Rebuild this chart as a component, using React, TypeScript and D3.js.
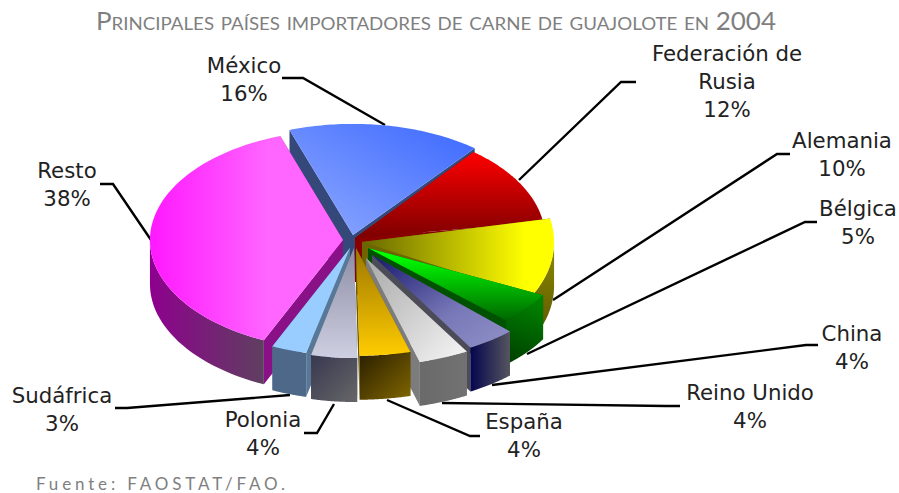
import React from "react";
import * as d3 from "d3";

const countries = ["México", "Federación de Rusia", "Alemania", "Bélgica", "China", "Reino Unido", "España", "Polonia", "Sudáfrica", "Resto"];
const shares = [16, 12, 10, 5, 4, 4, 4, 4, 3, 38];

const W = 899, H = 493;
const CX = 353, CY = 240, RX = 195, RY = 110, DEPTH = 44;
const ROTATION = -19 * Math.PI / 180;

// per-slice explosion: apex offset and radius factors
const explodeDx = [0, 2, 9, 15, 19, 13, 3, 1, -3, -10];
const explodeDy = [-5, -2, 2, 8, 15, 18, 8, 8, 8, 0];
const radiusX = [1, 0.975, 0.985, 1.015, 1.015, 1.04, 1.05, 0.95, 0.97, 0.99];
const radiusY = [1.01, 1, 1.05, 0.92, 0.97, 0.98, 0.98, 1, 0.98, 1];
// small per-slice correction of the drawn start edge, in degrees
const startNudge = [0, 0, -3.5, 0, 0, 0, 0, 0, 0, 0];

// paint order, back to front
const paintOrder = [0, 9, 1, 2, 3, 4, 5, 8, 7, 6];

type Grad = { dir: [number, number, number, number]; stops: [number, string][] };
const topFill: Grad[] = [
  { dir: [0, 1, 1, 0], stops: [[0, "#90aaff"], [1, "#3b68ff"]] },
  { dir: [0, 0, 0, 1], stops: [[0, "#ff0000"], [1, "#7d0000"]] },
  { dir: [0, 0, 1, 0], stops: [[0, "#666600"], [0.85, "#ffff00"], [1, "#ffff00"]] },
  { dir: [0, 0, 0, 1], stops: [[0.1, "#00ff00"], [1, "#006600"]] },
  { dir: [0, 0, 1, 1], stops: [[0, "#16166e"], [0.6, "#7878b8"], [1, "#9090c8"]] },
  { dir: [0, 0, 1, 1], stops: [[0, "#a8a8a8"], [1, "#f6f6f6"]] },
  { dir: [0, 0, 0, 1], stops: [[0, "#9c7600"], [1, "#ffcc00"]] },
  { dir: [0, 0, 0, 1], stops: [[0, "#8c8ca4"], [1, "#cfcfe2"]] },
  { dir: [0, 0, 0, 1], stops: [[0, "#99ccff"], [1, "#99ccff"]] },
  { dir: [0, 0, 1, 0], stops: [[0, "#ff18ff"], [0.62, "#ff66ff"], [1, "#ff66ff"]] },
];
const wallFill: Grad[] = [
  { dir: [0, 0, 1, 0], stops: [[0, "#34497a"], [1, "#34497a"]] },
  { dir: [0, 0, 1, 0], stops: [[0, "#700000"], [1, "#500000"]] },
  { dir: [0, 0, 0, 1], stops: [[0, "#8f8a00"], [1, "#5a5600"]] },
  { dir: [0.2, 0, 0, 1], stops: [[0, "#008000"], [1, "#003c00"]] },
  { dir: [0, 0, 1, 0], stops: [[0, "#05054e"], [1, "#55555f"]] },
  { dir: [0, 0, 1, 0], stops: [[0, "#6a6a6a"], [1, "#727272"]] },
  { dir: [0, 0, 1, 1], stops: [[0, "#2a1e00"], [1, "#806600"]] },
  { dir: [0, 0, 1, 1], stops: [[0, "#383850"], [1, "#666668"]] },
  { dir: [0, 0, 1, 1], stops: [[0, "#4d6888"], [1, "#4d6888"]] },
  { dir: [0, 0, 1, 0], stops: [[0, "#8e008e"], [1, "#5f3f60"]] },
];
const cutFill = ["#34497a", "#8a0000", "#6e6400", "#005200", "#4c4c58", "#7c7c7c", "#705800", "#5f7088", "#587898", "#8a1088"];

const labels: { lines: string[]; x: number; y: number; leader: [number, number][] }[] = [
  { lines: ["México", "16%"], x: 244, y: 73, leader: [[282, 78], [303, 78], [385, 125]] },
  { lines: ["Federación de", "Rusia", "12%"], x: 727, y: 61, leader: [[636, 82], [621, 82], [519, 180]] },
  { lines: ["Alemania", "10%"], x: 842, y: 148, leader: [[790, 154], [777, 154], [553, 300]] },
  { lines: ["Bélgica", "5%"], x: 858, y: 216, leader: [[817, 222], [805, 222], [527, 354]] },
  { lines: ["China", "4%"], x: 852, y: 341, leader: [[818, 345], [806, 345], [492, 385]] },
  { lines: ["Reino Unido", "4%"], x: 750, y: 400, leader: [[680, 406], [666, 406], [442, 403]] },
  { lines: ["España", "4%"], x: 524, y: 429, leader: [[480, 436], [470, 436], [387, 400]] },
  { lines: ["Polonia", "4%"], x: 263, y: 427, leader: [[304, 433], [317, 433], [334, 404]] },
  { lines: ["Sudáfrica", "3%"], x: 62, y: 403, leader: [[115, 408], [127, 408], [290, 395]] },
  { lines: ["Resto", "38%"], x: 67, y: 178, leader: [[100, 184], [113, 184], [151, 240]] },
];

const xScale = d3.scaleLinear().domain([-1, 1]).range([CX - RX, CX + RX]);
const yScale = d3.scaleLinear().domain([-1, 1]).range([CY - RY, CY + RY]);
const pieLayout = d3.pie<number>().sort(null).startAngle(ROTATION).endAngle(ROTATION + 2 * Math.PI);
const lineGen = d3.line<[number, number]>();

function GradDef({ id, g }: { id: string; g: Grad }) {
  return (
    <linearGradient id={id} x1={g.dir[0]} y1={g.dir[1]} x2={g.dir[2]} y2={g.dir[3]}>
      {g.stops.map(([o, c], i) => (
        <stop key={i} offset={o} stopColor={c} />
      ))}
    </linearGradient>
  );
}

export default function App() {
  const arcs = pieLayout(shares);
  const slices = arcs.map((a, i) => {
    const px = (t: number): [number, number] => [
      xScale(Math.sin(t) * radiusX[i]) + explodeDx[i],
      yScale(-Math.cos(t) * radiusY[i]) + explodeDy[i],
    ];
    const apex: [number, number] = [xScale(0) + explodeDx[i], yScale(0) + explodeDy[i]];
    const start = a.startAngle + (startNudge[i] * Math.PI) / 180;
    const ts = d3.range(0, 61).map((k) => start + ((a.endAngle - start) * k) / 60);
    const rim = ts.map(px);
    const down = (p: [number, number]): [number, number] => [p[0], p[1] + DEPTH];
    const top = lineGen([apex, ...rim])! + "Z";
    const wallRim = ts.filter((t) => Math.cos(t) <= 0.02).map(px);
    const wall = wallRim.length > 1 ? lineGen([...wallRim, ...wallRim.map(down).reverse()])! + "Z" : null;
    const first = rim[0];
    const last = rim[rim.length - 1];
    const cutA = lineGen([apex, first, down(first), down(apex)])! + "Z";
    const cutB = lineGen([apex, last, down(last), down(apex)])! + "Z";
    return { top, wall, cutA, cutB };
  });

  const textStyle = { fontFamily: "'DejaVu Sans', sans-serif", fontSize: 21.3, fill: "#222" };

  return (
    <svg width={W} height={H} viewBox={`0 0 ${W} ${H}`} style={{ position: "absolute", left: 0, top: 0, display: "block", background: "#fff" }}>
      <defs>
        {topFill.map((g, i) => <GradDef key={i} id={`top${i}`} g={g} />)}
        {wallFill.map((g, i) => <GradDef key={i} id={`wall${i}`} g={g} />)}
      </defs>

      <text x={436} y={30} textAnchor="middle" textLength={680} lengthAdjust="spacingAndGlyphs"
        style={{ fontFamily: "Lato, sans-serif", fontSize: 25, fontVariant: "small-caps", fill: "#7f7f7f" }}>
        Principales países importadores de carne de guajolote en 2004
      </text>

      {labels.map((l, i) => (
        <path key={i} d={lineGen(l.leader)!} fill="none" stroke="#000" strokeWidth={2.4} />
      ))}

      {paintOrder.map((i) => {
        const s = slices[i];
        return (
          <g key={countries[i]}>
            <path d={s.cutA} fill={cutFill[i]} />
            <path d={s.cutB} fill={cutFill[i]} />
            {s.wall && <path d={s.wall} fill={`url(#wall${i})`} />}
            <path d={s.top} fill={`url(#top${i})`} />
          </g>
        );
      })}

      {labels.map((l, i) => (
        <text key={i} textAnchor="middle" style={textStyle}>
          {l.lines.map((t, k) => (
            <tspan key={k} x={l.x} y={l.y + k * 28}>{t}</tspan>
          ))}
        </text>
      ))}

      <text x={36} y={490} style={{ fontFamily: "Lato, sans-serif", fontSize: 17, letterSpacing: 3.85, fill: "#7f7f7f" }}>
        Fuente: FAOSTAT/FAO.
      </text>
    </svg>
  );
}
